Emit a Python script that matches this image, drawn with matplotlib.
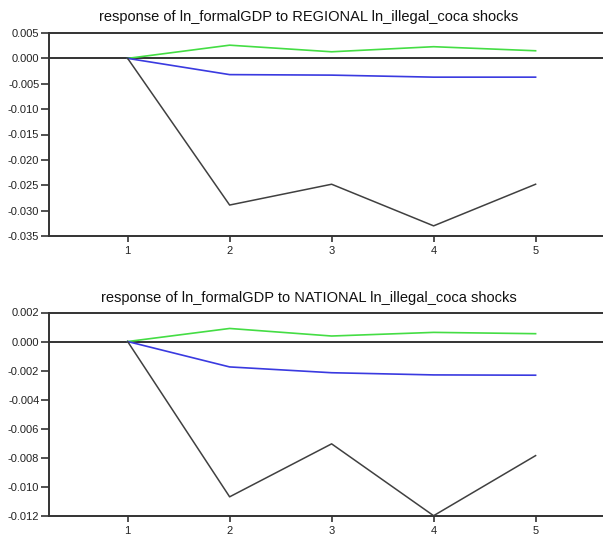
import matplotlib
matplotlib.use("Agg")
import matplotlib.pyplot as plt
from matplotlib import font_manager

periods = [1, 2, 3, 4, 5]

reg_upper = [0.0, 0.0026, 0.0013, 0.0023, 0.0015]
reg_mid = [0.0, -0.0032, -0.0033, -0.0037, -0.0037]
reg_lower = [0.0, -0.0289, -0.0248, -0.0330, -0.0248]

nat_upper = [0.0, 0.00090, 0.00038, 0.00063, 0.00054]
nat_mid = [0.0, -0.00175, -0.00215, -0.00230, -0.00232]
nat_lower = [0.0, -0.0107, -0.00705, -0.0120, -0.00786]

reg_yticks = [0.005, 0.000, -0.005, -0.010, -0.015, -0.020, -0.025, -0.030, -0.035]
nat_yticks = [0.002, 0.000, -0.002, -0.004, -0.006, -0.008, -0.010, -0.012]

titles = ["response of ln_formalGDP to REGIONAL ln_illegal_coca shocks",
          "response of ln_formalGDP to NATIONAL ln_illegal_coca shocks"]

names = {f.name for f in font_manager.fontManager.ttflist}
fam = ["Liberation Sans Narrow"] if "Liberation Sans Narrow" in names else ["Liberation Sans"]
plt.rcParams['font.family'] = fam + ["DejaVu Sans"]

W, H = 603, 535
fig = plt.figure(figsize=(W / 100, H / 100), dpi=100)

left = 49 / W
panels = [
    (titles[0], reg_upper, reg_mid, reg_lower, reg_yticks, 33, 236, 17),
    (titles[1], nat_upper, nat_mid, nat_lower, nat_yticks, 312.5, 515.7, 298),
]

spine_c = "#333333"
for title, up, mid, lo, yt, ytop, ybot, ty in panels:
    ax = fig.add_axes([left, 1 - ybot / H, 1.0 - left + 0.01, (ybot - ytop) / H])
    ax.set_xlim(0.229, 5.72)
    ax.set_ylim(min(yt), max(yt))
    ax.axhline(0, color=spine_c, lw=1.4, zorder=1)
    ax.plot(periods, up, color="#44dd44", lw=1.2, zorder=3)
    ax.plot(periods, mid, color="#3a3ae0", lw=1.2, zorder=3)
    ax.plot(periods, lo, color="#404040", lw=1.1, zorder=3)
    for s in ["left", "bottom", "top"]:
        ax.spines[s].set_color(spine_c)
        ax.spines[s].set_linewidth(1.4)
    ax.spines["right"].set_visible(False)
    ax.set_yticks(yt)
    ax.set_yticklabels([f"{v:.3f}" for v in yt])
    ax.set_xticks(periods)
    ax.set_xticklabels([str(p) for p in periods])
    ax.tick_params(axis="y", direction="out", length=6, width=1.2, color=spine_c,
                   labelsize=8, pad=1, labelcolor="#222222")
    ax.tick_params(axis="x", direction="out", length=4.5, width=1.2, color=spine_c,
                   labelsize=8, pad=3, labelcolor="#222222")
    fig.text(309 / W, 1 - ty / H, title, ha="center", va="center", fontsize=10.5,
             color="#111111")

fig.savefig("out.png", dpi=100)
